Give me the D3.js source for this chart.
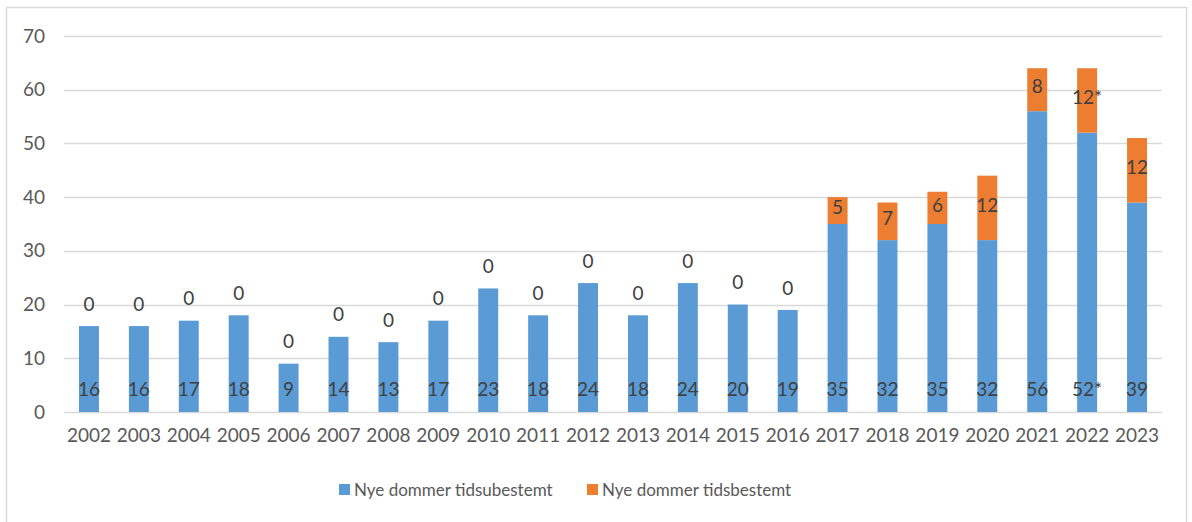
<!DOCTYPE html>
<html>
<head>
<meta charset="utf-8">
<script src="https://cdn.jsdelivr.net/npm/d3@7"></script>
<style>
  body { margin:0; background:#fff; }
  svg text { font-family:Lato, "Open Sans", sans-serif; }
</style>
</head>
<body>
<div id="canvas" class="canvas" style="width:1192px;height:522px;"></div>
<script>
// --- data
var years = ['2002','2003','2004','2005','2006','2007','2008','2009','2010','2011','2012',
             '2013','2014','2015','2016','2017','2018','2019','2020','2021','2022','2023'];
var tidsubestemt = [16,16,17,18,9,14,13,17,23,18,24,18,24,20,19,35,32,35,32,56,52,39];
var tidsbestemt  = [0,0,0,0,0,0,0,0,0,0,0,0,0,0,0,5,7,6,12,8,12,12];
var blueLabels   = ['16','16','17','18','9','14','13','17','23','18','24','18','24','20','19','35','32','35','32','56','52*','39'];
var orangeLabels = ['0','0','0','0','0','0','0','0','0','0','0','0','0','0','0','5','7','6','12','8','12*','12'];
var yTicks = [0,10,20,30,40,50,60,70];
var seriesNames = ['Nye dommer tidsubestemt','Nye dommer tidsbestemt'];
var colors = ['#5B9BD5','#ED7D31'];

var W = 1192, H = 522;
var M = {top:36, right:30, bottom:110, left:64};
var w = W - M.left - M.right,
    h = H - M.top - M.bottom;
var FONT = 'Lato, "Open Sans", sans-serif';

var svg = d3.select('.canvas').append('svg')
  .attr('width', W).attr('height', H);

// chart border
svg.append('rect')
  .attr('x', 6.5).attr('y', 7.5)
  .attr('width', 1180).attr('height', 530)
  .attr('fill', 'none').attr('stroke', '#D9D9D9').attr('stroke-width', 1.5);

var plot = svg.append('g')
  .attr('transform', 'translate(' + M.left + ',' + M.top + ')');

// --- scales
var scaleX = d3.scaleBand().domain(years).range([0, 1098]).paddingInner(0.6).paddingOuter(0.3);
var scaleY = d3.scaleLinear().domain([0, 70]).range([376, 0]);

// gridlines
plot.selectAll('.grid').data(yTicks).enter().append('line')
  .attr('x1', 0).attr('x2', 1098)
  .attr('y1', function(d){ return Math.round(scaleY(d)) + 0.5; })
  .attr('y2', function(d){ return Math.round(scaleY(d)) + 0.5; })
  .attr('stroke', '#D9D9D9').attr('stroke-width', 1.3);

// y axis labels
var yAxis = d3.axisLeft(scaleY).tickValues(yTicks).tickSize(0).tickPadding(19);
var ga = plot.append('g').call(yAxis);
ga.select('.domain').remove();
ga.selectAll('text').attr('font-size', 19).attr('fill', '#595959')
  .style('font-family', FONT);

// x axis labels
var xAxis = d3.axisBottom(scaleX).tickSize(0).tickPadding(17);
var gx = plot.append('g').attr('transform', 'translate(0,' + scaleY(0) + ')').call(xAxis);
gx.select('.domain').remove();
gx.selectAll('text').attr('font-size', 19).attr('fill', '#595959')
  .style('font-family', FONT);

// --- bars
var rows = years.map(function(y, i){
  return {year:y, a:tidsubestemt[i], b:tidsbestemt[i], la:blueLabels[i], lb:orangeLabels[i]};
});

plot.selectAll('.barA').data(rows).enter().append('rect')
  .attr('x', function(d){ return scaleX(d.year); })
  .attr('width', scaleX.bandwidth())
  .attr('y', function(d){ return scaleY(d.a); })
  .attr('height', function(d){ return scaleY(0) - scaleY(d.a); })
  .attr('fill', colors[0]);

plot.selectAll('.barB').data(rows).enter().append('rect')
  .attr('x', function(d){ return scaleX(d.year); })
  .attr('width', scaleX.bandwidth())
  .attr('y', function(d){ return scaleY(d.a + d.b); })
  .attr('height', function(d){ return scaleY(d.a) - scaleY(d.a + d.b); })
  .attr('fill', colors[1]);

// labels: blue at inside base
plot.selectAll('.labA').data(rows).enter().append('text')
  .attr('x', function(d){ return scaleX(d.year) + scaleX.bandwidth()/2; })
  .attr('y', scaleY(0) - 23)
  .attr('dy', '0.35em')
  .attr('text-anchor', 'middle')
  .attr('font-size', 19).attr('fill', '#404040')
  .text(function(d){ return d.la; });

// labels: orange, centred in segment or above bar when zero
plot.selectAll('.labB').data(rows).enter().append('text')
  .attr('x', function(d){ return scaleX(d.year) + scaleX.bandwidth()/2; })
  .attr('y', function(d){
    if (d.b === 0) return scaleY(d.a) - 22;
    return (scaleY(d.a) + scaleY(d.a + d.b)) / 2 - 3;
  })
  .attr('dy', '0.35em')
  .attr('text-anchor', 'middle')
  .attr('font-size', 19).attr('fill', '#404040')
  .text(function(d){ return d.lb; });

// --- legend
var legend = svg.append('g').attr('transform', 'translate(339,490)');
var legX = [0, 248];
seriesNames.forEach(function(name, i){
  var g = legend.append('g').attr('transform', 'translate(' + legX[i] + ',0)');
  g.append('rect').attr('x', 0).attr('y', -6).attr('width', 11).attr('height', 11).attr('fill', colors[i]);
  g.append('text').attr('x', 15).attr('y', 0).attr('dy', '0.35em')
    .attr('font-size', 17).attr('fill', '#595959').text(name);
});
</script>
</body>
</html>
